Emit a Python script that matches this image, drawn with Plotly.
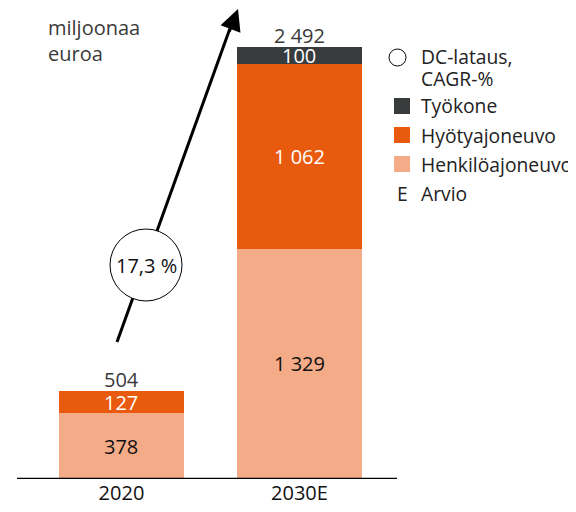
import plotly.graph_objects as go

# ---- data ----
categories = ["2020", "2030E"]
henkiloajoneuvo = [378, 1329]
hyotyajoneuvo = [127, 1062]
tyokone = [0, 100]
totals = [504, 2492]
cagr_label = "17,3 %"
unit_label = "miljoonaa<br>euroa"
legend_items = ["Työkone", "Hyötyajoneuvo", "Henkilöajoneuvo"]
legend_dc = ["DC-lataus,", "CAGR-%"]

# ---- styles ----
C_HENK = "#F4AB87"
C_HYOT = "#E85A0E"
C_TYO = "#383C3D"
FONT = "Open Sans"
OFF = 8  # page body margin
W, H = 576 - OFF, 512 - OFF
# target plot area in window pixels: x 17..397, y 8..479
L = 17 - OFF
R = W - (397 - OFF)
T = 8 - OFF
B = H - (479 - OFF)
PW, PH = W - L - R, H - T - B
YMAX = PH / 0.1734
xs = [0, 1]
XR = [-0.587, 1.548]
FS = 20
LFS = 19.3


def fmt(v):
    return f"{v:,}".replace(",", " ")


def px(xp, yp):
    # window pixel -> paper coords
    return (xp - 17) / PW, (479 - yp) / PH


fig = go.Figure()
series = [
    ("Henkilöajoneuvo", henkiloajoneuvo, C_HENK, "#111111"),
    ("Hyötyajoneuvo", hyotyajoneuvo, C_HYOT, "#ffffff"),
    ("Työkone", tyokone, C_TYO, "#ffffff"),
]
for name, vals, col, tcol in series:
    fig.add_trace(go.Bar(x=xs, y=vals, name=name, marker=dict(color=col, line=dict(width=0)),
                         width=0.702, showlegend=False, hoverinfo="skip"))

annotations = []
base = [0, 0]
for name, vals, col, tcol in series:
    for i, v in enumerate(vals):
        if v > 0:
            annotations.append(dict(x=xs[i], y=base[i] + v / 2, xref="x", yref="y", text=fmt(v),
                                    showarrow=False, font=dict(family=FONT, size=FS, color=tcol)))
        base[i] += v
for i, t in enumerate(totals):
    annotations.append(dict(x=xs[i], y=max(t, base[i]), xref="x", yref="y", text=fmt(t), yanchor="bottom",
                            yshift=-4, showarrow=False, font=dict(family=FONT, size=FS, color="#3a3a3a")))

# unit label
ux, uy = px(46, 12)
annotations.append(dict(x=ux, y=uy, xref="paper", yref="paper", text=unit_label, xanchor="left", yanchor="top",
                        align="left", showarrow=False, font=dict(family=FONT, size=FS, color="#3a3a3a")))

shapes = []
# arrow line
x0p, y0p = px(117, 342)
x1p, y1p = px(233, 20)
shapes.append(dict(type="line", xref="paper", yref="paper", x0=x0p, y0=y0p, x1=x1p, y1=y1p,
                   line=dict(color="#000000", width=3)))
# circle
cx0, cy0 = px(110, 301)
cx1, cy1 = px(182, 229)
shapes.append(dict(type="circle", xref="paper", yref="paper", x0=cx0, y0=cy0, x1=cx1, y1=cy1,
                   fillcolor="#ffffff", line=dict(color="#000000", width=1)))
ccx, ccy = px(146, 265)
annotations.append(dict(x=ccx, y=ccy, xref="paper", yref="paper", text=cagr_label, showarrow=False,
                        font=dict(family=FONT, size=FS, color="#111111")))
# arrowhead
tx, ty = px(238, 7)
annotations.append(dict(x=tx, y=ty, xref="paper", yref="paper", text="", ax=-9, ay=26,
                        showarrow=True, arrowhead=2, arrowsize=1.7, arrowwidth=2.5, arrowcolor="#000000"))

# baseline
shapes.append(dict(type="line", xref="paper", yref="y", x0=0, x1=1, y0=0, y1=0,
                   line=dict(color="#000000", width=2.5)))

# legend (manual)
lx2, _ = px(419, 0)
shapes.append(dict(type="circle", xref="paper", yref="paper", x0=px(389, 0)[0], x1=px(406, 0)[0],
                   y0=px(0, 66)[1], y1=px(0, 49)[1], line=dict(color="#000000", width=1), fillcolor="#ffffff"))
for txt, yy in zip(legend_dc, [57, 79]):
    annotations.append(dict(x=lx2, y=px(0, yy)[1], xref="paper", yref="paper", text=txt,
                            xanchor="left", yanchor="middle", showarrow=False,
                            font=dict(family=FONT, size=LFS, color="#222222")))
leg_cols = [C_TYO, C_HYOT, C_HENK]
leg_y = [106, 135, 164]
for name, col, yy in zip(legend_items, leg_cols, leg_y):
    shapes.append(dict(type="rect", xref="paper", yref="paper", x0=px(394, 0)[0], x1=px(410, 0)[0],
                       y0=px(0, yy + 8)[1], y1=px(0, yy - 8)[1], fillcolor=col, line=dict(width=0)))
    annotations.append(dict(x=lx2, y=px(0, yy)[1], xref="paper", yref="paper", text=name, xanchor="left",
                            yanchor="middle", showarrow=False, font=dict(family=FONT, size=LFS, color="#222222")))
annotations.append(dict(x=px(402, 0)[0], y=px(0, 193)[1], xref="paper", yref="paper", text="E",
                        xanchor="center", yanchor="middle", showarrow=False,
                        font=dict(family=FONT, size=LFS, color="#222222")))
annotations.append(dict(x=lx2, y=px(0, 193)[1], xref="paper", yref="paper", text="Arvio", xanchor="left",
                        yanchor="middle", showarrow=False, font=dict(family=FONT, size=LFS, color="#222222")))

fig.update_layout(
    barmode="stack",
    width=W, height=H,
    margin=dict(l=L, r=R, t=T, b=B, pad=0),
    plot_bgcolor="#ffffff", paper_bgcolor="#ffffff",
    xaxis=dict(range=XR, tickvals=xs, ticktext=categories, showgrid=False, zeroline=False, showline=False,
               ticks="", tickfont=dict(family=FONT, size=FS, color="#111111"), fixedrange=True),
    yaxis=dict(range=[0, YMAX], visible=False, fixedrange=True),
    shapes=shapes,
    annotations=annotations,
    bargap=0,
)
fig.write_html("out.html")
